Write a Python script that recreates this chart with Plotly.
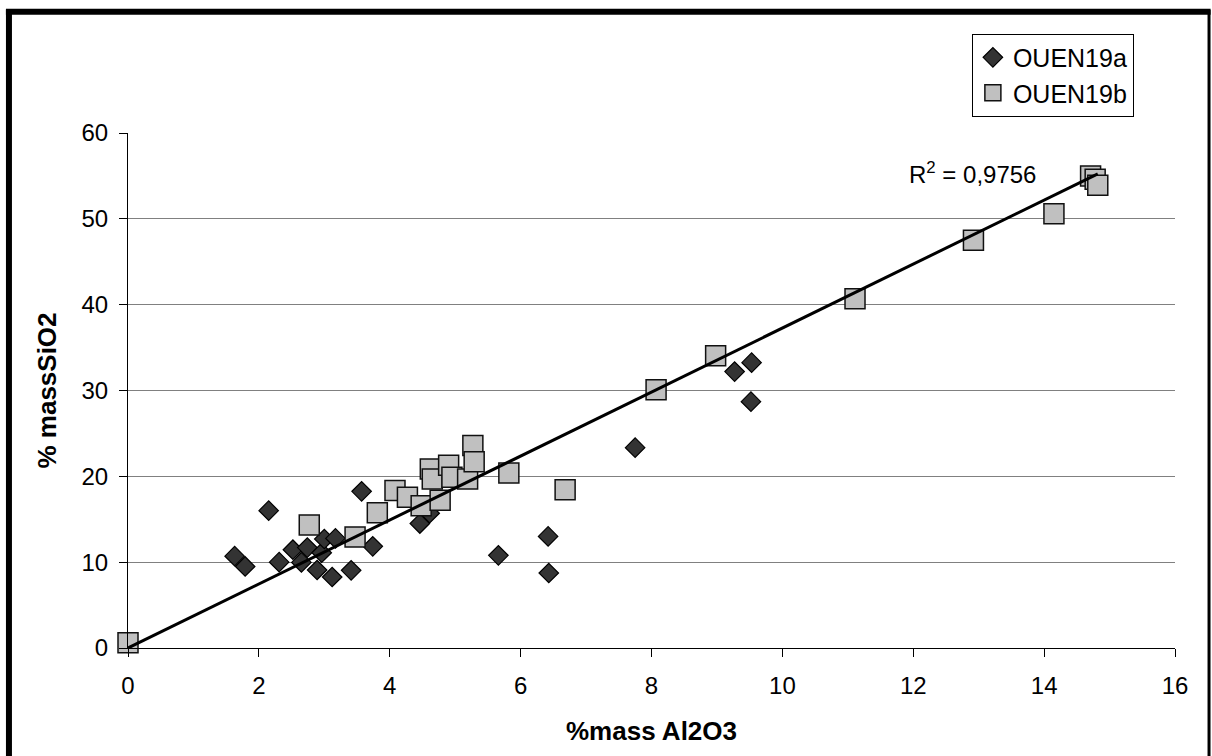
import numpy as np
import plotly.graph_objects as go

# ---- data ----
a_x = [1.63, 1.79, 2.15, 2.31, 2.52, 2.65, 2.74, 2.89, 2.96, 3.00, 3.12, 3.17,
       3.41, 3.57, 3.74, 4.46, 4.61, 5.66, 6.42, 6.43, 7.75, 9.27, 9.53, 9.52]
a_y = [10.7, 9.5, 16.0, 10.0, 11.45, 9.97, 11.7, 9.09, 11.1, 12.7, 8.27, 12.77,
       9.05, 18.25, 11.84, 14.5, 15.7, 10.8, 13.0, 8.74, 23.34, 32.2, 33.24, 28.7]

b_x = [0.0, 2.77, 3.47, 3.81, 4.08, 4.27, 4.48, 4.62, 4.65, 4.77, 4.90, 4.95,
       5.19, 5.27, 5.29, 5.82, 6.68, 8.07, 8.98, 11.11, 12.92, 14.15, 14.71,
       14.78, 14.82]
b_y = [0.6, 14.33, 12.93, 15.76, 18.36, 17.55, 16.58, 20.86, 19.7, 17.2, 21.28,
       19.9, 19.7, 23.6, 21.7, 20.4, 18.44, 30.1, 34.06, 40.7, 47.5, 50.6, 55.0,
       54.6, 53.9]

series_names = ["OUEN19a", "OUEN19b"]
r2_label = "R<sup>2</sup> = 0,9756"
x_title = "%mass Al2O3"
y_title = "% massSiO2"
x_ticks = [0, 2, 4, 6, 8, 10, 12, 14, 16]
y_ticks = [0, 10, 20, 30, 40, 50, 60]

# linear trendline through the origin fitted to OUEN19b
bx = np.array(b_x)
by = np.array(b_y)
slope = float((bx * by).sum() / (bx * bx).sum())
trend_x = [0.0, float(bx.max())]
trend_y = [slope * v for v in trend_x]

FONT = "Arial, Liberation Sans, sans-serif"

fig = go.Figure()
fig.add_trace(go.Scatter(
    x=a_x, y=a_y, mode="markers", name=series_names[0], cliponaxis=False,
    marker=dict(symbol="diamond", size=15, color="#333333",
                line=dict(color="#000000", width=1.2)),
))
fig.add_trace(go.Scatter(
    x=b_x, y=b_y, mode="markers", name=series_names[1], cliponaxis=False,
    marker=dict(symbol="square", size=20, color="#C0C0C0",
                line=dict(color="#111111", width=1.5)),
))
fig.add_trace(go.Scatter(
    x=trend_x, y=trend_y, mode="lines", showlegend=False, cliponaxis=False,
    line=dict(color="#000000", width=3),
))

fig.add_annotation(
    x=11.9, y=55.3, xref="x", yref="y", text=r2_label, showarrow=False,
    xanchor="left", yanchor="middle",
    font=dict(family=FONT, size=24, color="#000000"),
)

# outer thick frame of the chart area
fig.add_shape(type="line", xref="paper", yref="paper",
              x0=-0.1137, x1=-0.1137, y0=-0.25, y1=1.239,
              line=dict(color="#000000", width=6))
fig.add_shape(type="line", xref="paper", yref="paper",
              x0=-0.1166, x1=1.034, y0=1.2355, y1=1.2355,
              line=dict(color="#000000", width=6))
fig.add_shape(type="line", xref="paper", yref="paper",
              x0=1.0325, x1=1.0325, y0=-0.25, y1=1.239,
              line=dict(color="#000000", width=3))

fig.update_layout(
    width=1212, height=756,
    margin=dict(l=128, r=37, t=133, b=108),
    paper_bgcolor="#FFFFFF", plot_bgcolor="#FFFFFF",
    font=dict(family=FONT, size=24, color="#000000"),
    showlegend=True,
    legend=dict(
        x=0.806, y=1.193, xanchor="left", yanchor="top",
        bgcolor="#FFFFFF", bordercolor="#000000", borderwidth=1,
        font=dict(family=FONT, size=25, color="#000000"),
        tracegroupgap=0, itemwidth=30,
    ),
    xaxis=dict(
        range=[0, 16], tickvals=x_ticks, ticktext=[str(v) for v in x_ticks],
        showgrid=False, zeroline=False,
        showline=True, linecolor="#000000", linewidth=1,
        ticks="outside", ticklen=8, tickcolor="#000000", tickwidth=1,
        tickfont=dict(family=FONT, size=24), ticklabelstandoff=8,
        title=dict(text="<b>" + x_title + "</b>", standoff=24,
                   font=dict(family=FONT, size=26)),
        automargin=False,
    ),
    yaxis=dict(
        range=[0, 60], tickvals=y_ticks, ticktext=[str(v) for v in y_ticks],
        showgrid=True, gridcolor="#808080", gridwidth=1,
        zeroline=False,
        showline=True, linecolor="#000000", linewidth=1,
        ticks="outside", ticklen=8, tickcolor="#000000", tickwidth=1,
        tickfont=dict(family=FONT, size=24), ticklabelstandoff=6,
        title=dict(text="<b>" + y_title + "</b>", standoff=17,
                   font=dict(family=FONT, size=26)),
        automargin=False,
    ),
)

fig.write_html("out.html", config={"displayModeBar": False},
               post_script="document.body.style.margin='0px';")
